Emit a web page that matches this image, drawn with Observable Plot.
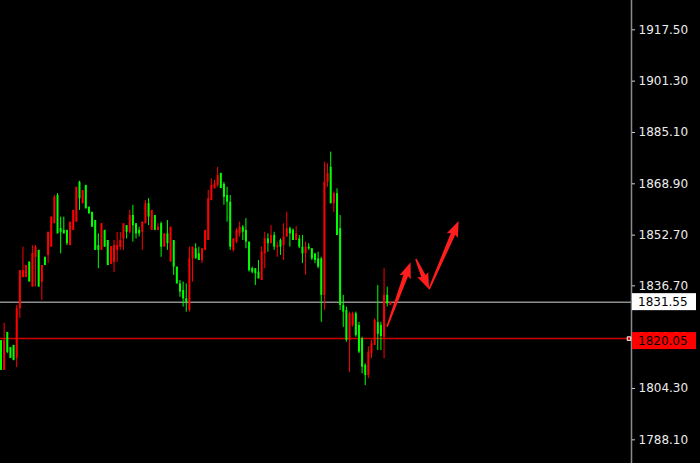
<!DOCTYPE html>
<html>
<head>
<meta charset="utf-8">
<script src="https://cdn.jsdelivr.net/npm/d3@7"></script>
<script src="https://cdn.jsdelivr.net/npm/@observablehq/plot@0.6"></script>
<style>
  html, body { margin: 0; padding: 0; background: #000; }
  #chart { width: 700px; height: 463px; overflow: hidden; }
</style>
</head>
<body>
<div id="chart"></div>
<script>
// ---- data ----
const open = [1819.4,1810.0,1822.0,1817.2,1817.9,1813.8,1829.5,1839.3,1839.3,1844.2,
1836.3,1845.7,1847.9,1837.8,1845.7,1846.3,1848.9,1856.3,1865.2,1854.8,
1854.2,1854.2,1849.4,1854.2,1856.8,1869.4,1862.6,1868.4,1861.5,1859.9,
1857.3,1849.4,1847.9,1854.2,1851.0,1843.4,1844.1,1847.9,1848.8,1851.5,
1855.7,1853.6,1858.9,1856.3,1854.2,1853.6,1856.3,1862.6,1854.2,1858.9,
1854.2,1856.3,1848.9,1853.1,1844.2,1851.0,1842.6,1837.3,1835.2,1832.6,
1828.9,1845.2,1848.4,1846.8,1844.7,1847.9,1851.0,1863.6,1867.3,1868.4,
1872.2,1868.7,1865.2,1863.1,1847.9,1850.5,1853.1,1855.2,1854.2,1850.5,
1842.1,1842.1,1841.0,1838.4,1846.8,1851.5,1850.0,1852.6,1848.9,1851.0,
1849.4,1852.1,1854.7,1854.2,1851.0,1851.5,1848.9,1846.8,1848.9,1848.4,
1846.8,1845.2,1845.2,1833.7,1869.4,1874.1,1862.6,1865.8,1854.7,1830.5,
1828.9,1819.5,1824.2,1827.9,1824.2,1820.0,1811.6,1808.4,1815.3,1817.9,
1825.1,1824.2,1820.4,1833.7,1830.5];
const high = [1819.4,1824.9,1822.0,1817.2,1817.9,1830.5,1841.5,1848.9,1843.1,1844.2,
1849.4,1849.4,1847.9,1843.1,1845.7,1853.6,1858.4,1865.2,1865.8,1858.4,
1858.4,1854.2,1856.8,1860.5,1867.8,1869.7,1866.8,1868.4,1861.5,1859.9,
1857.3,1853.1,1856.3,1854.2,1851.0,1849.1,1851.0,1853.5,1853.5,1856.3,
1855.7,1860.5,1862.1,1856.3,1855.2,1856.8,1863.6,1864.2,1860.5,1858.9,
1856.3,1856.8,1853.1,1857.3,1855.2,1851.0,1842.6,1838.4,1837.9,1837.3,
1848.9,1848.9,1850.0,1848.9,1848.4,1854.2,1866.8,1870.5,1870.0,1874.1,
1872.2,1869.3,1867.8,1865.2,1851.5,1854.7,1856.8,1855.7,1857.9,1850.5,
1842.6,1842.1,1844.7,1848.9,1853.6,1853.1,1855.7,1853.6,1850.5,1851.5,
1856.3,1859.9,1855.2,1854.7,1855.4,1852.6,1852.6,1850.5,1850.0,1848.4,
1846.8,1847.3,1845.7,1875.7,1875.2,1878.9,1866.3,1867.3,1858.9,1833.7,
1830.0,1828.4,1828.4,1828.4,1825.2,1820.5,1812.1,1817.4,1819.5,1826.3,
1836.8,1825.2,1842.1,1836.3,1831.6];
const low = [1810.0,1810.0,1815.3,1813.8,1813.1,1810.9,1826.4,1839.3,1839.3,1837.9,
1836.3,1836.3,1836.3,1832.1,1843.1,1843.8,1848.9,1856.3,1853.1,1846.8,
1853.1,1849.4,1849.4,1854.2,1856.8,1860.5,1862.6,1861.0,1859.4,1855.2,
1847.9,1842.1,1847.9,1848.9,1843.1,1843.4,1840.9,1844.1,1847.9,1847.9,
1851.5,1853.1,1850.5,1851.5,1852.1,1847.9,1856.3,1855.7,1854.2,1854.2,
1854.2,1845.7,1848.9,1847.9,1844.2,1840.0,1837.3,1833.1,1830.0,1828.4,
1828.4,1837.9,1845.2,1844.7,1843.7,1847.9,1851.0,1863.6,1867.3,1867.8,
1867.4,1862.1,1856.8,1847.9,1847.3,1850.0,1852.1,1851.0,1848.4,1841.0,
1840.5,1836.8,1838.9,1838.4,1842.1,1847.3,1850.0,1847.9,1845.7,1846.3,
1844.7,1852.1,1848.9,1851.0,1851.0,1848.4,1843.7,1840.0,1847.9,1844.7,
1843.7,1842.1,1825.2,1828.9,1867.8,1862.6,1859.9,1852.6,1828.9,1823.6,
1818.9,1809.4,1823.6,1820.5,1815.3,1808.9,1805.2,1807.4,1813.7,1817.9,
1816.3,1816.3,1813.7,1830.0,1830.5];
const close = [1810.0,1819.4,1815.7,1813.8,1813.1,1829.5,1841.5,1841.5,1843.1,1837.9,
1846.9,1848.9,1836.3,1843.1,1843.1,1853.6,1858.4,1864.7,1853.1,1853.6,
1853.1,1850.0,1856.8,1860.5,1867.8,1864.2,1866.8,1861.0,1859.4,1855.2,
1847.9,1847.9,1856.3,1848.9,1843.1,1849.1,1849.4,1849.4,1851.0,1856.3,
1853.6,1858.9,1855.7,1853.1,1853.1,1856.8,1862.6,1858.4,1860.5,1854.2,
1855.2,1848.9,1853.1,1850.0,1855.2,1842.6,1837.3,1834.7,1832.6,1831.5,
1845.2,1848.9,1845.2,1844.7,1848.4,1854.2,1864.2,1868.4,1868.9,1871.5,
1867.4,1864.6,1863.1,1848.9,1851.5,1854.2,1855.2,1853.6,1850.5,1841.5,
1841.0,1840.5,1838.9,1847.3,1851.5,1850.0,1852.6,1848.9,1849.4,1848.9,
1852.1,1854.7,1853.1,1851.0,1853.1,1848.9,1846.8,1848.9,1848.4,1845.2,
1844.7,1842.6,1833.7,1869.4,1872.1,1862.6,1865.8,1852.6,1830.5,1828.4,
1819.5,1827.9,1827.9,1821.0,1815.8,1811.0,1808.4,1815.8,1818.4,1825.8,
1821.4,1820.7,1833.7,1831.0,1831.55];

const tickValues = [1917.5, 1901.3, 1885.1, 1868.9, 1852.7, 1836.7, 1820.5, 1804.3, 1788.1];

const priceLevels = [1831.55, 1820.05];
const priceLevelNames = ["current", "level"];

// hand-drawn arrows: start bar / price -> end bar / price
const arrowStartBar = [123.1, 132.3, 136.5];
const arrowStartPrice = [1823.6, 1845.0, 1835.5];
const arrowEndBar = [130.6, 136.5, 145.9];
const arrowEndPrice = [1844.0, 1835.5, 1857.0];

// ---- build ----
const bars = open.map((o, i) => ({i, open: o, high: high[i], low: low[i], close: close[i]}));
const UP = "#ff0000", DOWN = "#00ff00";
const colorOf = d => d.close >= d.open ? UP : DOWN;
const arrows = arrowStartBar.map((b, k) => ({x1: b, y1: arrowStartPrice[k], x2: arrowEndBar[k], y2: arrowEndPrice[k]}));

const X_MAX = 200.8;
const FONT = "'DejaVu Sans', Verdana, sans-serif";

function arrowMark(index, scales) {
  const {x, y} = scales;
  const g = d3.create("svg:g");
  for (const a of arrows) {
    const x0 = x(a.x1), y0 = y(a.y1), x1 = x(a.x2), y1 = y(a.y2);
    const dx = x1 - x0, dy = y1 - y0, L = Math.hypot(dx, dy);
    const ux = dx / L, uy = dy / L, nx = -uy, ny = ux;
    const hl = 14, hw = 6, w0 = 0.8, w1 = 2.4;
    const bx = x1 - ux * hl, by = y1 - uy * hl;
    const pts = [
      [x0 + nx * w0, y0 + ny * w0],
      [bx + nx * w1, by + ny * w1],
      [bx - ux * 2 + nx * hw, by - uy * 2 + ny * hw],
      [x1, y1],
      [bx - ux * 2 - nx * hw, by - uy * 2 - ny * hw],
      [bx - nx * w1, by - ny * w1],
      [x0 - nx * w0, y0 - ny * w0]
    ];
    g.append("path").attr("d", "M" + pts.map(p => p.join(",")).join("L") + "Z").attr("fill", "#ff1e1e");
  }
  return g.node();
}

function labelMark(index, scales) {
  const {x, y} = scales;
  const g = d3.create("svg:g").attr("font-family", FONT).attr("font-size", 12).attr("text-anchor", "start");
  const styles = [{bg: "#ffffff", fg: "#000000", top: -8.5}, {bg: "#ff0000", fg: "#000000", top: -6}];
  priceLevels.forEach((v, k) => {
    const px = x(X_MAX), py = y(v), s = styles[k];
    g.append("rect").attr("x", px + 1).attr("y", py + s.top).attr("width", 64).attr("height", 17).attr("fill", s.bg);
    g.append("text").attr("x", px + 7).attr("y", py + s.top + 8.5).attr("dy", "0.36em").attr("text-anchor", "start").attr("fill", s.fg).text(v.toFixed(2));
  });
  return g.node();
}

const chart = Plot.plot({
  width: 700,
  height: 463,
  marginLeft: 0,
  marginRight: 69,
  marginTop: 0,
  marginBottom: 0,
  style: {background: "#000", color: "#e8e8e8", fontFamily: FONT, fontSize: "12px", overflow: "visible"},
  x: {domain: [-0.16, X_MAX], axis: null},
  y: {domain: [1780.63, 1926.75], axis: null},
  color: {type: "identity"},
  marks: [
    Plot.ruleY(priceLevels.slice(0, 1), {y: d => d, stroke: "#8e8e8e", strokeWidth: 1.5}),
    Plot.ruleY(priceLevels.slice(1, 2), {y: d => d, stroke: "#d00000", strokeWidth: 1.5}),
    Plot.ruleX(bars, {x: "i", y1: "low", y2: "high", stroke: colorOf, strokeWidth: 1}),
    Plot.ruleX(bars, {x: "i", y1: "open", y2: "close", stroke: colorOf, strokeWidth: 2}),
    arrowMark,
    Plot.ruleX([X_MAX], {stroke: "#8a8a8a", strokeWidth: 1.5}),
    Plot.axisY(tickValues, {anchor: "right", tickSize: 3, tickPadding: 4, tickFormat: d => d.toFixed(2), stroke: "#cfcfcf", fill: "#ececec", label: null, fontSize: 12}),
    Plot.dot(priceLevels.slice(1, 2), {x: () => X_MAX, y: d => d, dx: -2.5, symbol: "square", r: 2, stroke: "#ffffff", fill: "#d00000", strokeWidth: 1}),
    labelMark
  ]
});
document.getElementById("chart").appendChild(chart);
</script>
</body>
</html>
